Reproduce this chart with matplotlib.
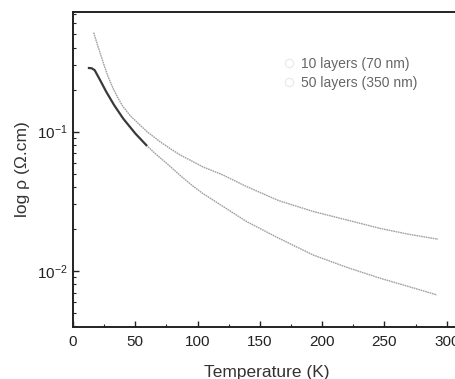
import matplotlib
matplotlib.use("Agg")
import matplotlib.pyplot as plt
from matplotlib.lines import Line2D

plt.rcParams['font.family'] = ['Liberation Sans', 'DejaVu Sans']
plt.rcParams['mathtext.fontset'] = 'custom'
plt.rcParams['mathtext.rm'] = 'Liberation Sans'
plt.rcParams['mathtext.it'] = 'Liberation Sans'

# Data
temp_10 = [16.6, 20, 24.1, 28, 32.1, 36, 40.1, 46, 53.5, 60, 69.6, 78, 86, 104.3, 120,
           139.4, 165, 192.9, 220, 246.4, 270, 293]
rho_10 = [0.514, 0.41, 0.316, 0.25, 0.205, 0.175, 0.151, 0.130, 0.112, 0.099, 0.0850, 0.0755,
          0.068, 0.0558, 0.049, 0.0403, 0.032, 0.0267, 0.0232, 0.0202, 0.0183, 0.0169]

temp_50 = [12.8, 15, 17.4, 22, 26.7, 33, 40.3, 50, 58.8, 66, 74.9, 86, 95, 104.3, 120,
           139.4, 165, 192.9, 220, 246.4, 270, 292]
rho_50 = [0.286, 0.285, 0.276, 0.232, 0.193, 0.155, 0.124, 0.097, 0.080, 0.0695, 0.0595, 0.0485,
          0.0415, 0.0359, 0.0292, 0.0226, 0.0172, 0.0130, 0.0106, 0.00887, 0.0077, 0.00673]

labels = ["10 layers (70 nm)", "50 layers (350 nm)"]
x_ticks = [0, 50, 100, 150, 200, 250, 300]

fig = plt.figure(figsize=(4.55, 3.79), dpi=100)
ax = fig.add_axes([73/455, 52/379, 387/455, 315/379])

dotted = (0, (1.2, 0.5))
ax.plot(temp_10, rho_10, color='#a0a0a0', lw=1.0, linestyle=dotted)
n_dark = 9
ax.plot(temp_50[n_dark-1:], rho_50[n_dark-1:], color='#a0a0a0', lw=1.0, linestyle=dotted)
ax.plot(temp_50[:n_dark], rho_50[:n_dark], color='#3a3a3a', lw=1.6)

ax.set_yscale('log')
ax.set_xlim(0, 310.6)
ax.set_ylim(0.00396, 0.722)
ax.set_xticks(x_ticks)
ax.set_xticks([25, 75, 125, 175, 225, 275], minor=True)
ax.set_xticklabels([str(t) for t in x_ticks])

ax.tick_params(which='both', direction='in', top=False, right=False, labelsize=11, colors='#222222')
ax.tick_params(which='major', length=4, width=1)
ax.tick_params(which='minor', length=2.5, width=0.8)
ax.tick_params(axis='x', pad=6)
for s in ax.spines.values():
    s.set_linewidth(1.4)
    s.set_color('#222222')

ax.set_xlabel('Temperature (K)', fontsize=12.5, color='#333333', labelpad=11)
ax.set_ylabel('log ρ (Ω.cm)', fontsize=12.5, color='#333333', labelpad=5)

handles = [Line2D([], [], marker='o', linestyle='none', markersize=6,
                  markerfacecolor='none', markeredgecolor='#e8e8e8', markeredgewidth=0.8)
           for _ in labels]
leg = ax.legend(handles, labels, loc='upper left', bbox_to_anchor=(0.525, 0.875),
                frameon=False, fontsize=10, handletextpad=0.4, labelspacing=0.35,
                handlelength=1.0, borderaxespad=0)
for t in leg.get_texts():
    t.set_color('#666666')

fig.savefig('out.png', dpi=100)
